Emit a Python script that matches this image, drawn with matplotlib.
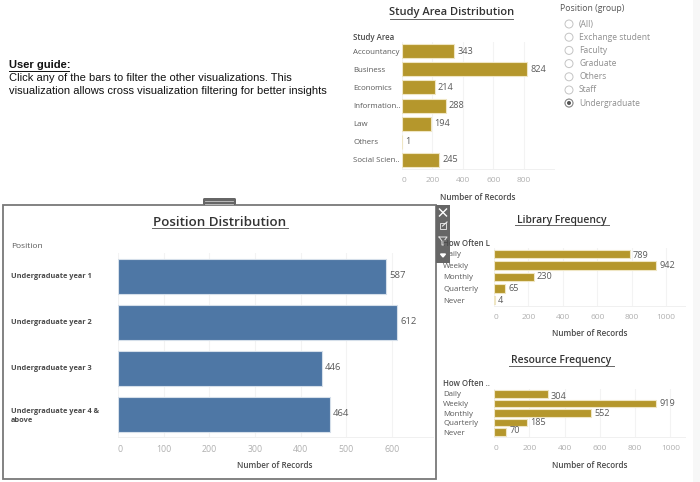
import matplotlib
matplotlib.use("Agg")
import matplotlib.pyplot as plt
from matplotlib.patches import Rectangle, Circle, FancyBboxPatch
from matplotlib.transforms import ScaledTranslation

W, H = 700, 482
plt.rcParams['font.family'] = ['Open Sans', 'DejaVu Sans']

study_labels = ['Accountancy', 'Business', 'Economics', 'Information..', 'Law', 'Others', 'Social Scien..']
study_values = [343, 824, 214, 288, 194, 1, 245]
position_labels = ['Undergraduate year 1', 'Undergraduate year 2', 'Undergraduate year 3', 'Undergraduate year 4 &\nabove']
position_values = [587, 612, 446, 464]
freq_labels = ['Daily', 'Weekly', 'Monthly', 'Quarterly', 'Never']
library_values = [789, 942, 230, 65, 4]
resource_values = [304, 919, 552, 185, 70]
filter_options = ['(All)', 'Exchange student', 'Faculty', 'Graduate', 'Others', 'Staff', 'Undergraduate']

GOLD = '#B5972C'
EDGE_GOLD = '#EFE6C4'
BLUE = '#4E77A5'
EDGE_BLUE = '#D5DFEA'
TXT = '#5a5a5a'
TICK = '#b0b0b0'
GRID = '#f3f3f3'

fig = plt.figure(figsize=(W / 100, H / 100), dpi=100, facecolor='white')


def pix_axes(x0, y0, x1, y1, **kw):
    return fig.add_axes([x0 / W, 1 - y1 / H, (x1 - x0) / W, (y1 - y0) / H], **kw)


def bar_panel(box, labels, values, xmax, ticks, bar_h, label_x, lab_fs=5.7, val_fs=6.6, tick_fs=6.0,
              color=GOLD, edge=EDGE_GOLD, lab_weight='normal', lab_color=TXT, val_dy=None, tick_dx=3):
    ax = pix_axes(*box)
    ax.set_facecolor('none')
    n = len(values)
    ypos = list(range(n))
    span = box[3] - box[1]
    ax.barh(ypos, values, height=bar_h * n / span, color=color, edgecolor=edge, linewidth=0.8, zorder=3)
    ax.set_xlim(0, xmax)
    ax.set_ylim(n - 0.5, -0.5)
    for s in ['top', 'right', 'left']:
        ax.spines[s].set_visible(False)
    ax.spines['bottom'].set_color('#f0f0f0')
    ax.spines['bottom'].set_linewidth(0.7)
    ax.set_xticks(ticks)
    ax.grid(axis='x', color=GRID, linewidth=0.8, zorder=0)
    ax.set_axisbelow(True)
    ax.tick_params(axis='x', length=0, pad=5.5, labelsize=tick_fs, labelcolor=TICK)
    # the first label sits just right of the axis start; the others are centred on their ticks
    first = ax.get_xticklabels()[0]
    first.set_ha('left')
    first.set_x(0)
    ax.set_yticks(ypos)
    ax.set_yticklabels(labels, fontsize=lab_fs, color=lab_color, fontweight=lab_weight, ha='left', linespacing=1.45)
    ax.tick_params(axis='y', length=0, pad=(box[0] - label_x) * 0.72)
    for i, (y, v) in enumerate(zip(ypos, values)):
        dy = 0 if val_dy is None else val_dy[i]
        ax.annotate(str(v), (v, y), xytext=(2.2, -dy), textcoords='offset points',
                    va='center', ha='left', fontsize=val_fs, color=TXT, zorder=4)
    return ax


bar_panel((402, 42, 554, 169), study_labels, study_values, 1000, [0, 200, 400, 600, 800], 14, 353)
bar_panel((118, 253, 433, 437), position_labels, position_values, 690, [0, 100, 200, 300, 400, 500, 600], 35, 11,
          color=BLUE, edge=EDGE_BLUE, lab_weight='bold', lab_color='#4a4a4a', lab_fs=5.3, tick_fs=6.3, val_fs=6.8)
bar_panel((494, 248, 685, 306), freq_labels, library_values, 1110, [0, 200, 400, 600, 800, 1000], 8.5, 443,
          val_dy=[1.5, 0, 0, 0, 0])
bar_panel((494, 389, 685, 437), freq_labels, resource_values, 1083, [0, 200, 400, 600, 800, 1000], 7.5, 443,
          val_dy=[2, 0, 0, 0, -1.5])

ov = fig.add_axes([0, 0, 1, 1], zorder=10)
ov.set_xlim(0, W)
ov.set_ylim(H, 0)
ov.axis('off')
ov.patch.set_alpha(0)

# right strip and popup frame
ov.add_patch(Rectangle((693, 0), 7, H, fc='#f7f7f7', ec='none'))
ov.add_patch(Rectangle((3, 205), 433, 274, fc='none', ec='#787878', lw=1.3))
ov.add_patch(FancyBboxPatch((203, 198), 33, 7, boxstyle='round,pad=0,rounding_size=1.5', fc='#666666', ec='none'))
ov.plot([205, 233], [201, 201], color='#c8c8c8', lw=0.6)
ov.plot([205, 233], [203.5, 203.5], color='#c8c8c8', lw=0.6)

# floating toolbar
ov.add_patch(Rectangle((436, 205), 14, 58, fc='#666666', ec='none'))
ov.plot([439.5, 446.5], [209, 216], color='white', lw=1)
ov.plot([439.5, 446.5], [216, 209], color='white', lw=1)
ov.add_patch(Rectangle((439.5, 223), 6, 6, fc='none', ec='#dddddd', lw=0.7))
ov.plot([442.5, 447], [226, 222], color='#eeeeee', lw=0.8)
ov.plot([439, 447, 444, 444, 442, 442, 439], [237, 237, 241, 245, 245, 241, 237], color='#e8e8e8', lw=0.7)
ov.fill([440.5, 445.5, 443], [254, 254, 257], color='white')


def title(x0, x1, y, s, size, gap):
    ov.text((x0 + x1) / 2, y, s, ha='center', va='center', fontsize=size, color='#333333', fontweight='semibold')
    ov.plot([x0, x1], [y + gap, y + gap], color='#666666', lw=0.7)


title(390, 513, 13, 'Study Area Distribution', 8.0, 5.5)
title(152, 288, 222, 'Position Distribution', 9.6, 6.3)
title(515, 609, 220, 'Library Frequency', 7.4, 5.2)
title(509, 614, 361, 'Resource Frequency', 7.4, 5.2)


def label(x, y, s, size=5.7, weight='semibold', color='#4a4a4a', ha='left'):
    ov.text(x, y, s, ha=ha, va='center', fontsize=size, fontweight=weight, color=color)


label(353, 37.5, 'Study Area')
label(11, 247, 'Position', weight='normal', size=6.0, color=TXT)
label(443, 243, 'How Often L')
label(443, 383, 'How Often ..')
label(478, 198, 'Number of Records', size=5.9, ha='center')
label(275, 465, 'Number of Records', size=5.9, ha='center')
label(590, 334, 'Number of Records', size=5.9, ha='center')
label(590, 465, 'Number of Records', size=5.9, ha='center')

# radio filter
label(560, 8.5, 'Position (group)', size=6.2, weight='medium', color='#555555')
for i, opt in enumerate(filter_options):
    y = 24 + i * 13.2
    ov.add_patch(Circle((569, y), 4, fc='white', ec='#c4c4c4', lw=0.7))
    ov.text(579, y, opt, ha='left', va='center', fontsize=6.15, color='#8f8f8f')
ov.add_patch(Circle((569, 103), 2, fc='#555555', ec='none'))
ov.add_patch(Circle((569, 103), 4, fc='none', ec='#888888', lw=0.7))

# user guide
ug = dict(ha='left', va='center', family='Liberation Sans', color='#111111')
ov.text(9, 65.5, 'User guide:', fontsize=8.0, fontweight='bold', **ug)
ov.plot([9, 69], [71, 71], color='#111111', lw=0.7)
ov.text(9, 78, 'Click any of the bars to filter the other visualizations. This', fontsize=8.0, **ug)
ov.text(9, 91, 'visualization allows cross visualization filtering for better insights', fontsize=8.0, **ug)

fig.savefig('out.png', dpi=100, facecolor='white')
